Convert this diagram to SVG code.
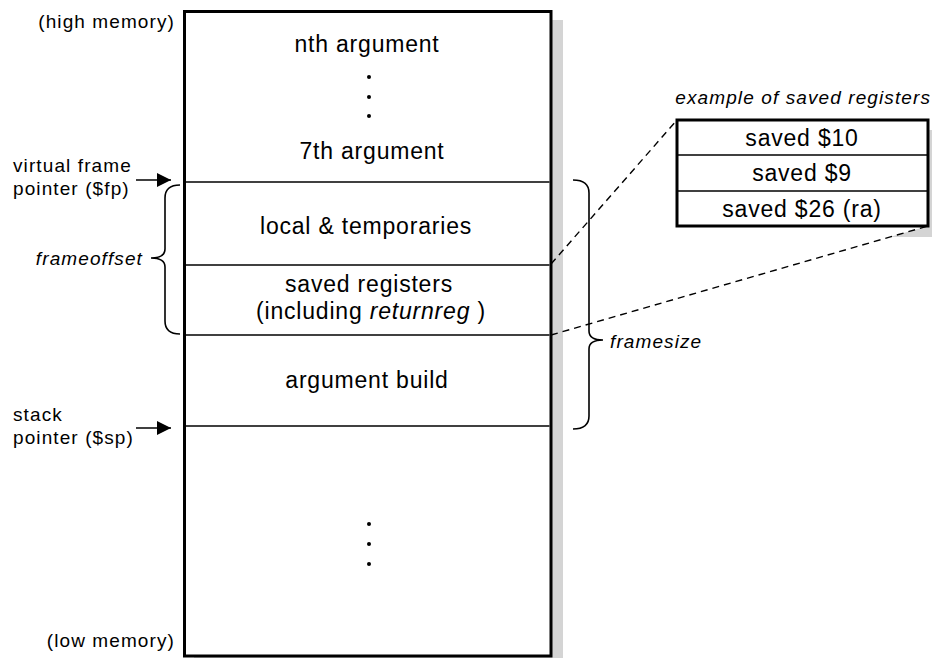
<svg xmlns="http://www.w3.org/2000/svg" width="932" height="658" viewBox="0 0 932 658">
  <defs>
    <style>
      text { font-family: "Liberation Sans", Arial, sans-serif; fill: #000; }
      .cell { font-size: 23px; letter-spacing: 0.8px; text-anchor: middle; }
      .lbl { font-size: 19px; letter-spacing: 1.1px; }
      .it { font-style: italic; }
      .end { text-anchor: end; }
      .frame { fill: #fff; stroke: #000; stroke-width: 3; }
      .shadow { fill: #d4d4d4; stroke: none; }
      .div { stroke: #000; stroke-width: 1.5; fill: none; }
      .brace { stroke: #000; stroke-width: 1.6; fill: none; }
      .dash { stroke: #000; stroke-width: 1.4; fill: none; stroke-dasharray: 7 5; }
      .ptr { stroke: #000; stroke-width: 1.6; fill: none; marker-end: url(#head); }
      .dot { fill: #000; }
    </style>
    <marker id="head" viewBox="0 0 10 10" refX="10" refY="5" markerUnits="userSpaceOnUse" markerWidth="14" markerHeight="14" orient="auto">
      <path d="M0,0 L10,5 L0,10 Z" fill="#000"/>
    </marker>
  </defs>

  <!-- shadow of the detail box, partly covered by the zoom wedge -->
  <rect class="shadow" x="687" y="130" width="260" height="107"/>
  <polygon points="551,265 677,120 928,120 928,226 551,335" fill="#fff"/>

  <!-- stack body -->
  <g id="stack">
    <rect class="shadow" x="194" y="20" width="369" height="660"/>
    <rect class="frame" x="184.5" y="11.5" width="366.5" height="644.5"/>
  </g>

  <g id="arguments">
    <text class="cell" x="367" y="52">nth argument</text>
    <circle class="dot" cx="369" cy="77" r="2"/>
    <circle class="dot" cx="369" cy="97" r="2"/>
    <circle class="dot" cx="369" cy="116" r="2"/>
    <text class="cell" x="372" y="159">7th argument</text>
  </g>

  <g id="locals">
    <line class="div" x1="186" y1="182" x2="549.5" y2="182"/>
    <text class="cell" x="366" y="234">local &amp; temporaries</text>
  </g>

  <g id="saved-registers">
    <line class="div" x1="186" y1="265" x2="549.5" y2="265"/>
    <text class="cell" x="369" y="292">saved registers</text>
    <text class="cell" x="371" y="319">(including  <tspan class="it">returnreg</tspan> )</text>
  </g>

  <g id="argument-build">
    <line class="div" x1="186" y1="335" x2="549.5" y2="335"/>
    <text class="cell" x="367" y="388">argument build</text>
    <line class="div" x1="186" y1="426" x2="549.5" y2="426"/>
  </g>

  <g id="lower-stack">
    <circle class="dot" cx="369" cy="524" r="2"/>
    <circle class="dot" cx="369" cy="544" r="2"/>
    <circle class="dot" cx="369" cy="564" r="2"/>
  </g>

  <!-- left-hand labels -->
  <g id="high-memory">
    <text class="lbl end" x="175" y="28">(high memory)</text>
  </g>
  <g id="low-memory">
    <text class="lbl end" x="175" y="647">(low memory)</text>
  </g>
  <g id="frame-pointer">
    <text class="lbl" x="13" y="172">virtual frame</text>
    <text class="lbl" x="13" y="195">pointer ($fp)</text>
  </g>
  <g id="stack-pointer">
    <text class="lbl" x="13" y="421">stack</text>
    <text class="lbl" x="13" y="444">pointer ($sp)</text>
  </g>
  <g id="frameoffset">
    <text class="lbl it end" x="143" y="265">frameoffset</text>
  </g>
  <g id="framesize">
    <text class="lbl it" x="610" y="348">framesize</text>
  </g>

  <!-- detail box -->
  <g id="register-example">
    <text class="lbl it end" x="931" y="104">example of saved registers</text>
    <rect class="frame" x="677" y="120" width="251" height="106"/>
    <line class="div" x1="678" y1="155" x2="927" y2="155"/>
    <line class="div" x1="678" y1="191" x2="927" y2="191"/>
    <text class="cell" x="802" y="146">saved $10</text>
    <text class="cell" x="802" y="181">saved $9</text>
    <text class="cell" x="802" y="217">saved $26 (ra)</text>
  </g>

  <g id="connectors">
    <line class="ptr" x1="136" y1="180" x2="171" y2="180"/>
    <line class="ptr" x1="136" y1="428" x2="171" y2="428"/>
    <line class="dash" x1="551" y1="264" x2="677" y2="120"/>
    <line class="dash" x1="551" y1="335" x2="928" y2="226"/>
    <path class="brace" d="M180,185 Q165,185 165,198 L165,249 Q165,258 151,258 Q165,258 165,267 L165,321 Q165,334 180,334"/>
    <path class="brace" d="M573,180 Q589,180 589,193 L589,331 Q589,340 603,340 Q589,340 589,349 L589,416 Q589,429 573,429"/>
  </g>
</svg>
